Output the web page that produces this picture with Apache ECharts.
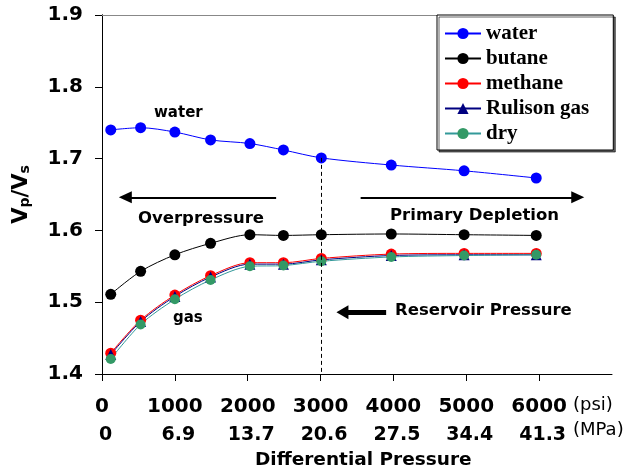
<!DOCTYPE html>
<html>
<head>
<meta charset="UTF-8">
<title>Vp/Vs vs differential pressure</title>
<script src="https://cdn.jsdelivr.net/npm/echarts@6/dist/echarts.min.js"></script>
<style>
    html, body { margin: 0; padding: 0; background: #fff; }
    #main { width: 633px; height: 472px; }
</style>
</head>
<body>
<div id="main"></div>
<script type="text/javascript">
    // pressure (psi) where each sample was measured
    var pressure = [120, 530, 1000, 1490, 2030, 2490, 3010, 3970, 4970, 5960];
    var water   = [1.740, 1.743, 1.737, 1.726, 1.721, 1.712, 1.701, 1.691, 1.683, 1.673];
    var butane  = [1.511, 1.543, 1.566, 1.582, 1.594, 1.593, 1.594, 1.595, 1.594, 1.593];
    var methane = [1.429, 1.475, 1.510, 1.537, 1.555, 1.555, 1.561, 1.567, 1.568, 1.568];
    var rulison = [1.427, 1.473, 1.508, 1.535, 1.553, 1.553, 1.559, 1.565, 1.566, 1.566];
    var dry     = [1.421, 1.469, 1.504, 1.531, 1.550, 1.551, 1.557, 1.563, 1.565, 1.566];

    var psiLabels = ['0', '1000', '2000', '3000', '4000', '5000', '6000'];
    var mpaLabels = ['0', '6.9', '13.7', '20.6', '27.5', '34.4', '41.3'];

    var sansBold = 'DejaVu Sans';

    function pairs(ys) {
        var out = [];
        for (var i = 0; i < ys.length; i++) {
            out.push([pressure[i], ys[i]]);
        }
        return out;
    }

    function lineSeries(name, ys, color, lineColor, symbol, size) {
        return {
            name: name,
            type: 'line',
            data: pairs(ys),
            smooth: 0.3,
            symbol: symbol,
            symbolSize: size,
            itemStyle: { color: color, opacity: 1 },
            lineStyle: { color: lineColor, width: 1 },
            emphasis: { disabled: true },
            animation: false
        };
    }

    var chart = echarts.init(document.getElementById('main'));

    var series = [
        lineSeries('water', water, '#0000ff', '#0000ff', 'circle', 11),
        lineSeries('butane', butane, '#000000', '#000000', 'circle', 11),
        lineSeries('methane', methane, '#ff0000', '#ff0000', 'circle', 11),
        lineSeries('Rulison gas', rulison, '#000080', '#000080', 'triangle', 11),
        lineSeries('dry', dry, '#339966', '#339999', 'circle', 10)
    ];

    // dashed line + arrows drawn in data coordinates
    series[1].markLine = {
        silent: true,
        animation: false,
        label: { show: false },
        symbol: ['none', 'none'],
        data: [
            [
                { coord: [3010, 1.701], symbol: 'none', lineStyle: { color: '#000', width: 1, type: [4, 3] } },
                { coord: [3010, 1.4], symbol: 'none' }
            ],
            [
                { coord: [2390, 1.646], symbol: 'none', lineStyle: { color: '#000', width: 2, type: 'solid' } },
                { coord: [320, 1.646], symbol: 'triangle', symbolSize: [12, 13] }
            ],
            [
                { coord: [3550, 1.646], symbol: 'none', lineStyle: { color: '#000', width: 2, type: 'solid' } },
                { coord: [6530, 1.646], symbol: 'triangle', symbolSize: [12, 13] }
            ],
            [
                { coord: [3900, 1.486], symbol: 'none', lineStyle: { color: '#000', width: 5, type: 'solid' } },
                { coord: [3300, 1.486], symbol: 'triangle', symbolSize: [14, 12] }
            ]
        ]
    };

    chart.setOption({
        backgroundColor: '#fff',
        animation: false,
        textStyle: { fontFamily: sansBold },
        grid: { left: 102, top: 15, right: 21, bottom: 98, containLabel: false, outerBoundsMode: 'none' },
        legend: {
            orient: 'vertical',
            left: 437,
            top: 15,
            padding: [8, 24, 6, 7],
            itemGap: 4,
            itemWidth: 36,
            itemHeight: 14,
            backgroundColor: '#fff',
            borderColor: '#000',
            borderWidth: 1,
            shadowColor: 'rgba(0,0,0,0.6)',
            shadowOffsetX: 2,
            shadowOffsetY: 2,
            selectedMode: false,
            textStyle: {
                fontFamily: 'Liberation Serif',
                fontWeight: 'bold',
                fontSize: 21,
                color: '#000'
            },
            data: ['water', 'butane', 'methane', 'Rulison gas', 'dry']
        },
        xAxis: [{
            type: 'value',
            min: 0,
            max: 7000,
            interval: 1000,
            axisLine: { lineStyle: { color: '#000', width: 1 } },
            axisTick: { show: true, length: 7, lineStyle: { color: '#000' } },
            splitLine: { show: false },
            axisLabel: {
                margin: 18,
                showMaxLabel: false,
                formatter: function (v) {
                    var i = Math.round(v / 1000);
                    if (i > 6) return '';
                    return '{a|' + psiLabels[i] + '}\n{b|' + mpaLabels[i] + '}';
                },
                rich: {
                    a: { fontFamily: sansBold, fontWeight: 'bold', fontSize: 20, color: '#000', lineHeight: 29 },
                    b: { fontFamily: sansBold, fontWeight: 'bold', fontSize: 19, color: '#000', lineHeight: 29, padding: [0, 0, 0, 7] }
                }
            }
        }, {
            type: 'value',
            position: 'top',
            min: 0,
            max: 7000,
            axisLine: { lineStyle: { color: '#888', width: 1 } },
            axisTick: { show: false },
            axisLabel: { show: false },
            splitLine: { show: false }
        }],
        yAxis: [{
            type: 'value',
            min: 1.4,
            max: 1.9,
            interval: 0.1,
            axisLine: { show: true, lineStyle: { color: '#000', width: 1 } },
            axisTick: { show: true, length: 7, lineStyle: { color: '#000' } },
            splitLine: { show: false },
            axisLabel: {
                margin: 19,
                fontFamily: sansBold,
                fontWeight: 'bold',
                fontSize: 20,
                color: '#000',
                formatter: function (v) { return v.toFixed(1); }
            },
            name: '{v|V}{s|p}{v|/V}{s|s}',
            nameLocation: 'middle',
            nameRotate: 90,
            nameGap: 70,
            nameTextStyle: {
                rich: {
                    v: { fontFamily: sansBold, fontWeight: 'bold', fontSize: 21, color: '#000', verticalAlign: 'bottom' },
                    s: { fontFamily: sansBold, fontWeight: 'bold', fontSize: 14, color: '#000', verticalAlign: 'bottom', padding: [8, 0, 0, 0] }
                }
            }
        }, {
            type: 'value',
            position: 'right',
            min: 1.4,
            max: 1.9,
            axisLine: { show: true, lineStyle: { color: '#000', width: 1 } },
            axisTick: { show: false },
            axisLabel: { show: false },
            splitLine: { show: false }
        }],
        graphic: [
            { type: 'text', left: 154, top: 106, style: { text: 'water', font: 'bold 15px "DejaVu Sans"', fill: '#000' } },
            { type: 'text', left: 138, top: 210, style: { text: 'Overpressure', font: 'bold 16.5px "DejaVu Sans"', fill: '#000' } },
            { type: 'text', left: 390, top: 207, style: { text: 'Primary Depletion', font: 'bold 16.5px "DejaVu Sans"', fill: '#000' } },
            { type: 'text', left: 395, top: 302, style: { text: 'Reservoir Pressure', font: 'bold 16.5px "DejaVu Sans"', fill: '#000' } },
            { type: 'text', left: 173, top: 311, style: { text: 'gas', font: 'bold 15px "DejaVu Sans"', fill: '#000' } },
            { type: 'text', left: 573, top: 396, style: { text: '(psi)', font: '18px "DejaVu Sans"', fill: '#000' } },
            { type: 'text', left: 573, top: 421, style: { text: '(MPa)', font: '18px "DejaVu Sans"', fill: '#000' } },
            { type: 'text', left: 255, top: 451, style: { text: 'Differential Pressure', font: 'bold 18.5px "DejaVu Sans"', fill: '#000' } }
        ],
        series: series
    });
</script>
</body>
</html>
